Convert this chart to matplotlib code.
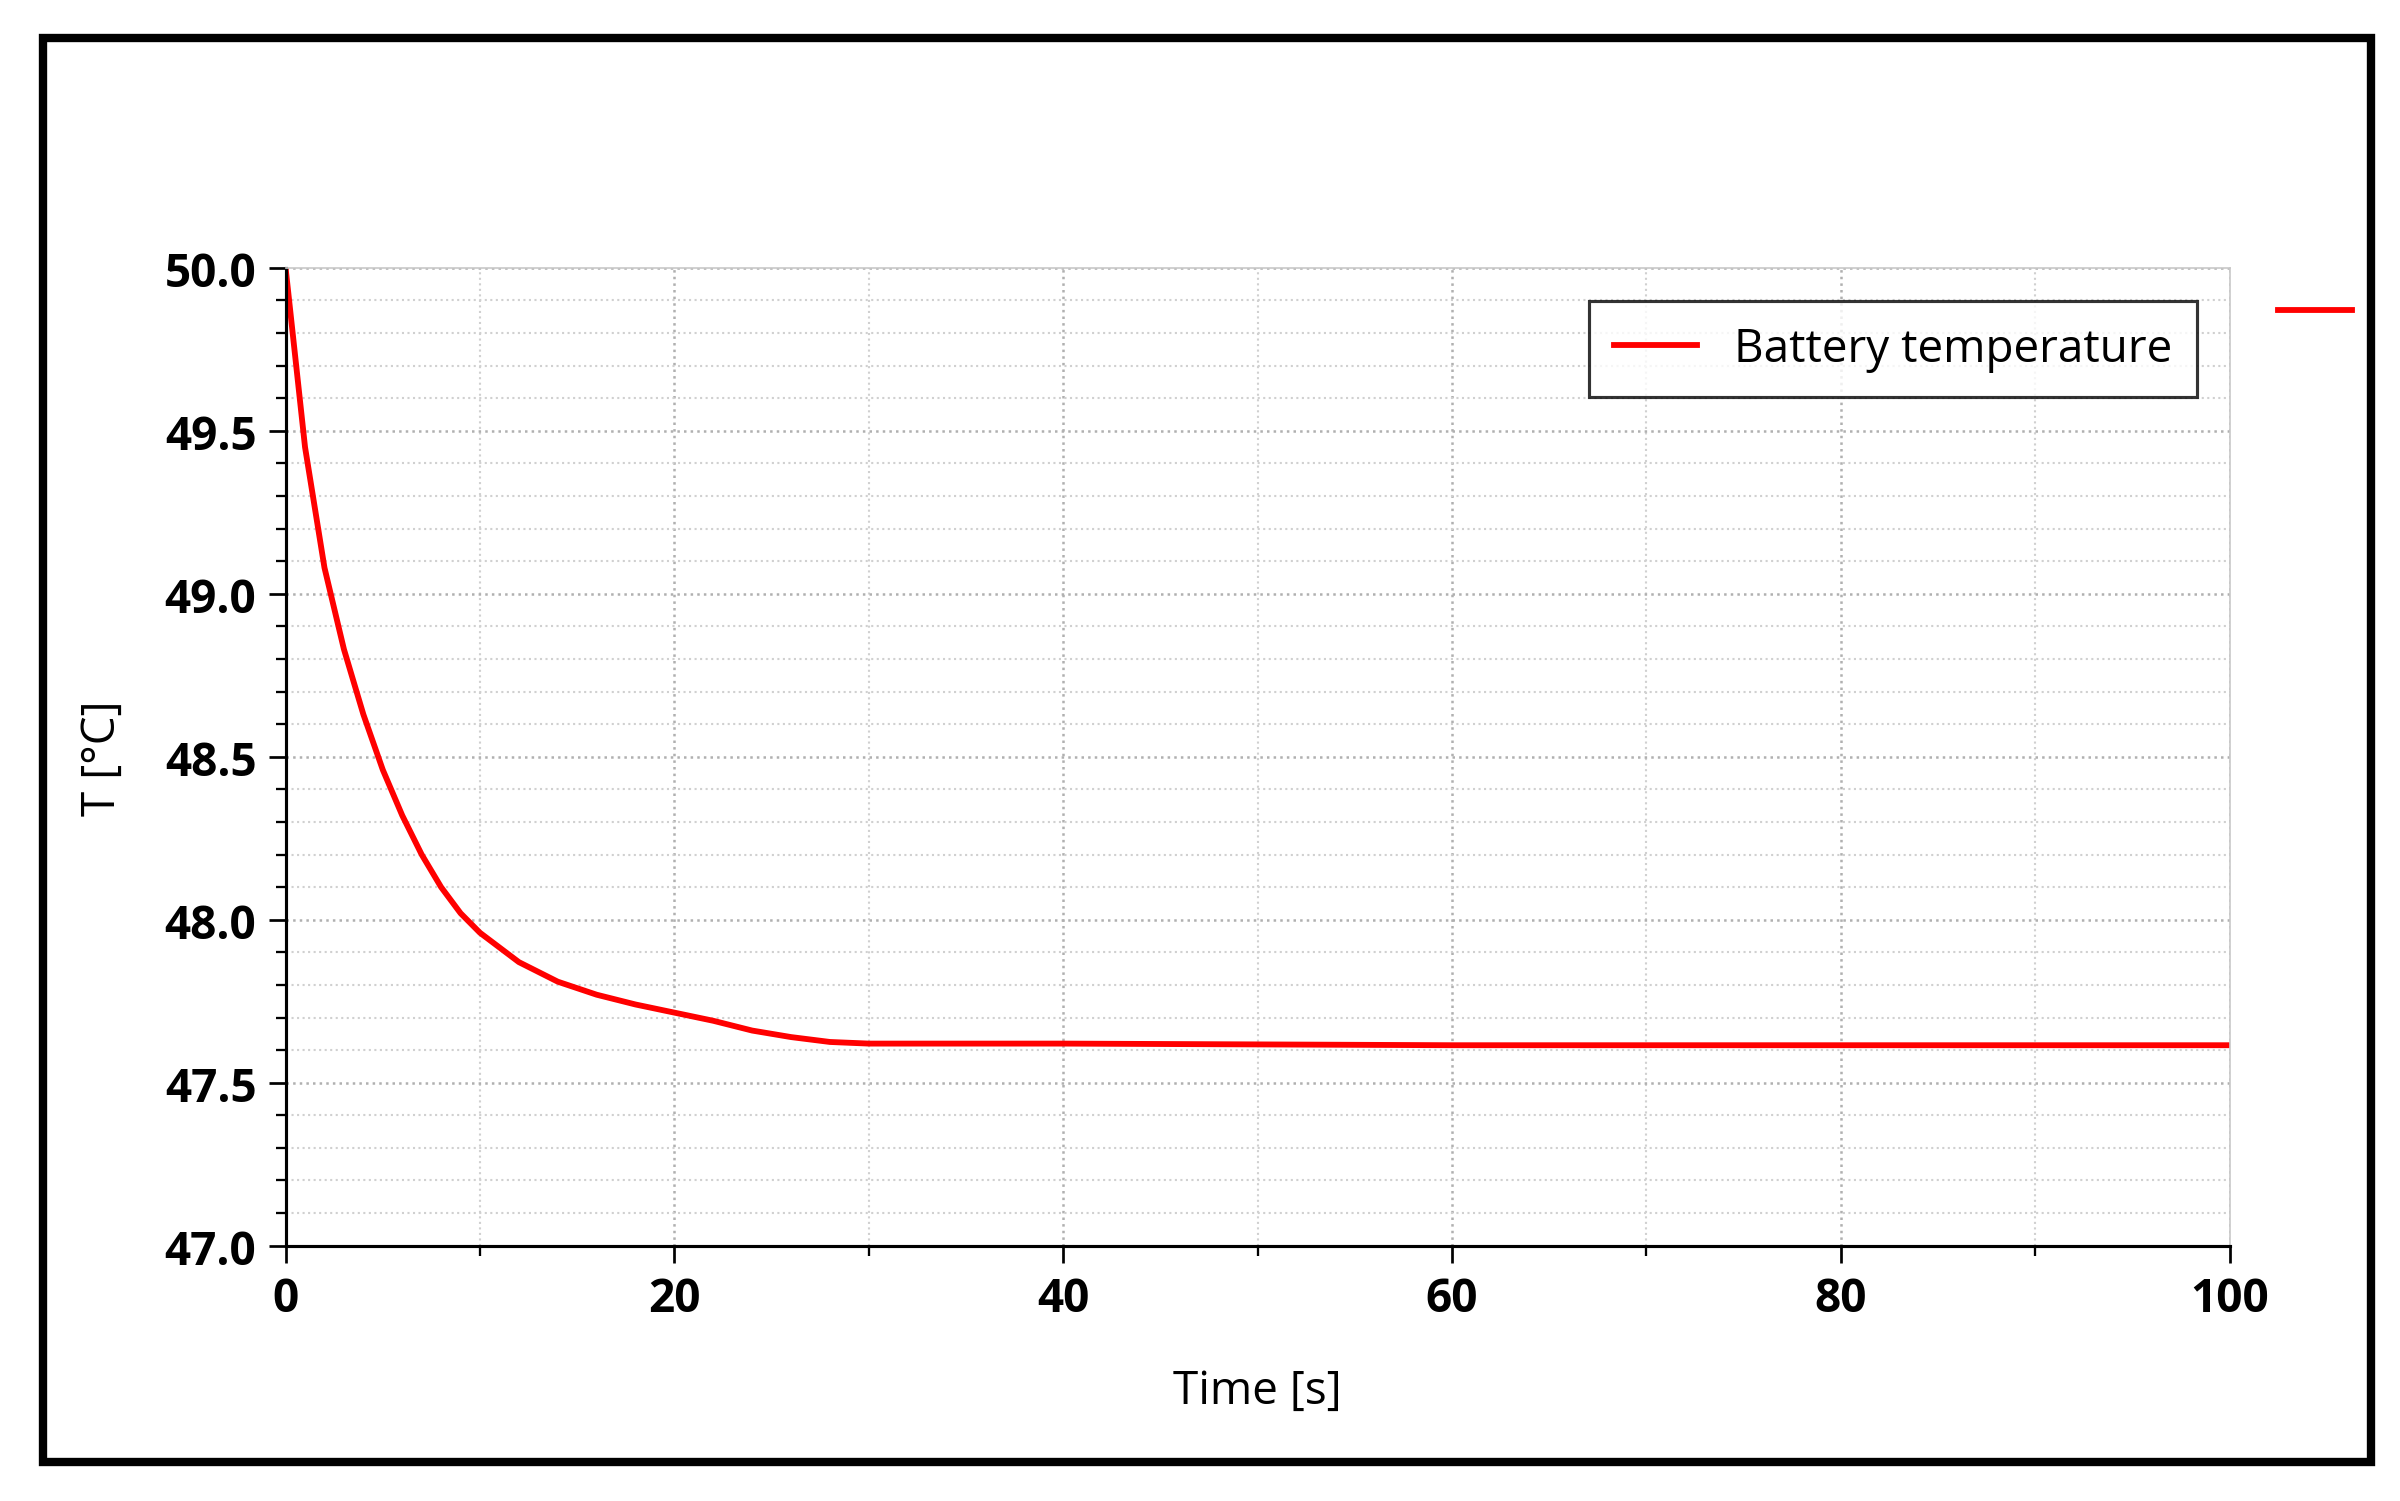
import matplotlib.pyplot as plt
import numpy as np
from matplotlib.lines import Line2D
from matplotlib.patches import Rectangle
from matplotlib.ticker import MultipleLocator

plt.rcParams['font.family'] = ['Open Sans', 'DejaVu Sans']

# Battery temperature curve
time_s = [0, 1, 2, 3, 4, 5, 6, 7, 8, 9, 10, 12, 14, 16, 18, 20, 22, 24, 26, 28, 30, 40, 60, 80, 100]
temp_c = [50.0, 49.45, 49.08, 48.83, 48.63, 48.46, 48.32, 48.2, 48.1, 48.02, 47.96, 47.87, 47.81,
          47.77, 47.74, 47.715, 47.69, 47.66, 47.64, 47.625, 47.62, 47.62, 47.615, 47.615, 47.615]

fig = plt.figure(figsize=(16, 10.013), dpi=150)
ax = fig.add_axes([0.119, 0.170, 0.810, 0.651])

ax.plot(time_s, temp_c, color='#ff0000', lw=2.8, label='Battery temperature')
ax.set_xlim(0, 100)
ax.set_ylim(47.0, 50.0)
ax.xaxis.set_major_locator(MultipleLocator(20))
ax.xaxis.set_minor_locator(MultipleLocator(10))
ax.yaxis.set_major_locator(MultipleLocator(0.5))
ax.yaxis.set_minor_locator(MultipleLocator(0.1))
ax.yaxis.set_major_formatter(plt.FormatStrFormatter('%.1f'))
ax.grid(which='major', color='#b0b0b0', ls=':', lw=1.2)
ax.grid(which='minor', color='#d0d0d0', ls=':', lw=1.0)
ax.tick_params(which='major', length=8, width=1.3, labelsize=22, pad=6)
ax.tick_params(which='minor', length=5, width=1.1)
for lbl in ax.get_xticklabels() + ax.get_yticklabels():
    lbl.set_fontweight('bold')
for side in ['top', 'right']:
    ax.spines[side].set_color('#c8c8c8')
for side in ['left', 'bottom']:
    ax.spines[side].set_linewidth(1.5)

ax.set_xlabel('Time [s]', fontsize=22, labelpad=22)
ax.set_ylabel('T [°C]', fontsize=22)
ax.yaxis.set_label_coords(-0.082, 0.5)

leg = ax.legend(loc='upper right', fontsize=22, frameon=True, fancybox=False,
                borderpad=0.55, handlelength=1.8, bbox_to_anchor=(0.995, 0.99))
leg.get_frame().set_edgecolor('black')
leg.get_frame().set_linewidth(1.5)

# stray legend marker outside the plot and the outer frame
fig.add_artist(Line2D([0.949, 0.980], [0.793, 0.793], color='#ff0000', lw=2.8))
fig.add_artist(Rectangle((0.018, 0.026), 0.970, 0.948, transform=fig.transFigure,
                         fill=False, edgecolor='black', lw=4))

fig.savefig('out.png', dpi=150, facecolor='white')
